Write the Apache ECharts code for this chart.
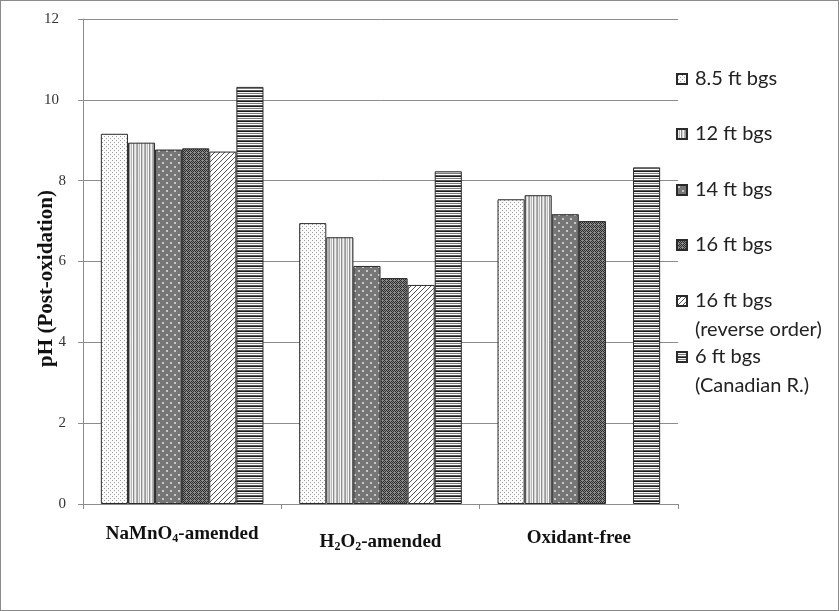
<!DOCTYPE html>
<html>
<head>
<meta charset="utf-8">
<script src="https://cdn.jsdelivr.net/npm/echarts@6/dist/echarts.min.js"></script>
<style>
  html, body { margin: 0; padding: 0; background: #fff; }
  #chart { width: 839px; height: 611px; box-sizing: border-box; border: 1px solid #8a8a8a; }
</style>
</head>
<body>
<div id="chart"></div>
<script>
var categories = ['NaMnO4-amended', 'H2O2-amended', 'Oxidant-free']
var seriesNames = ['8.5 ft bgs', '12 ft bgs', '14 ft bgs', '16 ft bgs', '16 ft bgs\n(reverse order)', '6 ft bgs\n(Canadian R.)']

var ph85 = [9.16, 6.95, 7.54]
var ph12 = [8.94, 6.60, 7.64]
var ph14 = [8.77, 5.89, 7.17]
var ph16 = [8.80, 5.59, 7.00]
var ph16rev = [8.72, 5.42, null]
var ph6 = [10.32, 8.23, 8.33]

var yTicks = { min: 0, max: 12, interval: 2 }

// little canvas tiles that stand in for the excel fill patterns
function tile (w, h, draw) {
  var c = document.createElement('canvas')
  c.width = w
  c.height = h
  var ctx = c.getContext('2d')
  draw(ctx)
  return { image: c, repeat: 'repeat' }
}

var patterns = [
  tile(4, 4, function (ctx) {
    ctx.fillStyle = '#fbfbfb'; ctx.fillRect(0, 0, 4, 4)
    ctx.fillStyle = '#9a9a9a'; ctx.fillRect(1, 1, 1, 1); ctx.fillRect(3, 3, 1, 1)
  }),
  tile(8, 4, function (ctx) {
    var cols = ['#9a9a9a', '#e8e8e8', '#b8b8b8', '#fafafa', '#8c8c8c', '#d4d4d4', '#f0f0f0', '#b0b0b0']
    for (var i = 0; i < 8; i++) { ctx.fillStyle = cols[i]; ctx.fillRect(i, 0, 1, 4) }
  }),
  tile(8, 8, function (ctx) {
    ctx.fillStyle = '#767676'; ctx.fillRect(0, 0, 8, 8)
    ctx.fillStyle = '#c8c8c8'; ctx.fillRect(1, 1, 2, 2); ctx.fillRect(5, 5, 2, 2)
  }),
  tile(4, 4, function (ctx) {
    ctx.fillStyle = '#8a8a8a'; ctx.fillRect(0, 0, 4, 4)
    ctx.fillStyle = '#2a2a2a'
    ctx.fillRect(0, 0, 1, 1); ctx.fillRect(2, 0, 1, 1); ctx.fillRect(1, 1, 1, 1); ctx.fillRect(3, 1, 1, 1)
    ctx.fillRect(0, 2, 1, 1); ctx.fillRect(2, 2, 1, 1); ctx.fillRect(3, 3, 1, 1)
  }),
  tile(5, 5, function (ctx) {
    ctx.fillStyle = '#ffffff'; ctx.fillRect(0, 0, 5, 5)
    ctx.strokeStyle = '#555'; ctx.lineWidth = 1
    ctx.beginPath()
    ctx.moveTo(-1, 6); ctx.lineTo(6, -1)
    ctx.moveTo(-3, 3); ctx.lineTo(3, -3)
    ctx.moveTo(2, 8); ctx.lineTo(8, 2)
    ctx.stroke()
  }),
  tile(4, 5, function (ctx) {
    var rows = ['#1c1c1c', '#f4f4f4', '#7a7a7a', '#ffffff', '#5a5a5a']
    for (var i = 0; i < 5; i++) { ctx.fillStyle = rows[i]; ctx.fillRect(0, i, 4, 1) }
  })
]

var allData = [ph85, ph12, ph14, ph16, ph16rev, ph6]

var chart = echarts.init(document.getElementById('chart'))

var series = seriesNames.map(function (name, i) {
  return {
    name: name,
    type: 'bar',
    data: allData[i],
    barGap: '0%',
    barCategoryGap: '18%',
    itemStyle: { color: patterns[i], borderColor: '#2a2a2a', borderWidth: 1 }
  }
})

// one legend per item so the spacing follows the first line of each label;
// two-line labels get an empty line on top so the icon sits by the first line
var legendCenters = [78, 133, 189, 244, 300, 356]
var lh = 29
var legends = seriesNames.map(function (name, i) {
  var twoLines = name.indexOf('\n') >= 0
  return {
    data: [name],
    orient: 'vertical',
    left: 675,
    top: legendCenters[i] - (twoLines ? 1.5 * lh : 0.5 * lh),
    padding: 0,
    icon: 'rect',
    itemWidth: 10,
    itemHeight: 10,
    itemGap: 0,
    selectedMode: false,
    formatter: function (n) { return twoLines ? '\n' + n : n },
    textStyle: { fontFamily: 'Lato', fontSize: 20, color: '#222', lineHeight: lh, padding: [0, 0, 0, 3] }
  }
})

var serif = 'Liberation Serif'
var labelDrop = [0, 8, 5]

chart.setOption({
  animation: false,
  grid: { left: 82, right: 160, top: 18, bottom: 106 },
  legend: legends,
  xAxis: {
    type: 'category',
    data: categories.map(function (c, i) {
      return { value: c, textStyle: { padding: [labelDrop[i], 0, 0, 0] } }
    }),
    axisLine: { lineStyle: { color: '#8c8c8c' } },
    axisTick: { show: true, length: 5, interval: 0, lineStyle: { color: '#8c8c8c' } },
    axisLabel: {
      interval: 0,
      margin: 20,
      formatter: function (v) {
        if (v === 'NaMnO4-amended') return '{b|NaMnO}{s|4}{b|-amended}'
        if (v === 'H2O2-amended') return '{b|H}{s|2}{b|O}{s|2}{b|-amended}'
        return '{b|' + v + '}'
      },
      rich: {
        b: { fontFamily: serif, fontWeight: 'bold', fontSize: 19, color: '#111' },
        s: { fontFamily: serif, fontWeight: 'bold', fontSize: 12, color: '#111', padding: [9, 0, 0, 0] }
      }
    }
  },
  yAxis: {
    type: 'value',
    min: yTicks.min,
    max: yTicks.max,
    interval: yTicks.interval,
    name: 'pH (Post-oxidation)',
    nameLocation: 'middle',
    nameGap: 26,
    nameMoveOverlap: false,
    nameTextStyle: { fontFamily: serif, fontWeight: 'bold', fontSize: 21, color: '#111', padding: [0, 34, 0, 0] },
    axisLine: { show: true, lineStyle: { color: '#8c8c8c' } },
    axisTick: { show: true, length: 5, lineStyle: { color: '#8c8c8c' } },
    axisLabel: {
      margin: 17,
      // the two-digit labels sit a little further left in the original
      formatter: function (v) { return v >= 10 ? '{w|' + v + '}' : '{n|' + v + '}' },
      rich: {
        n: { fontFamily: serif, fontSize: 15, color: '#333' },
        w: { fontFamily: serif, fontSize: 15, color: '#333', padding: [0, 7, 0, 0] }
      }
    },
    splitLine: { lineStyle: { color: '#8c8c8c' } }
  },
  series: series
})
</script>
</body>
</html>
